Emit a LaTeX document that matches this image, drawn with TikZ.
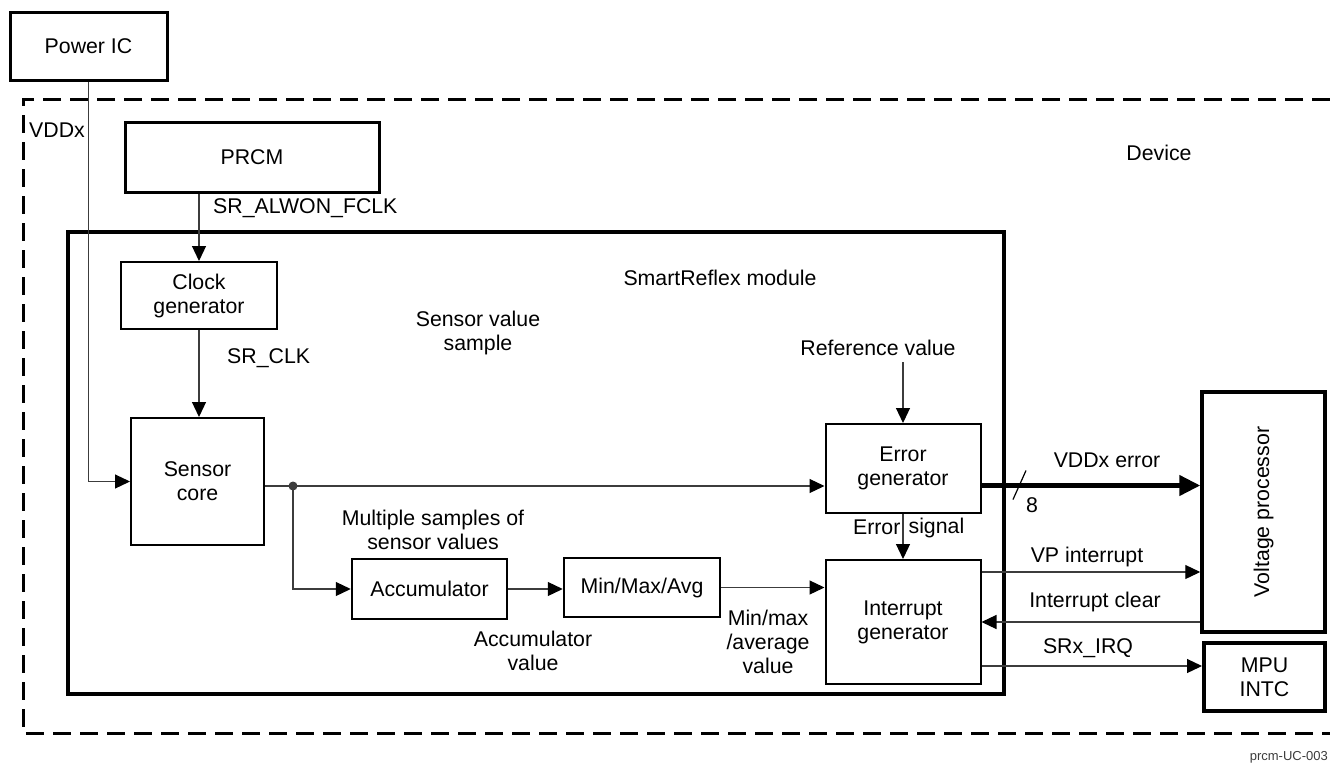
\documentclass[tikz,border=0pt]{standalone}
\usepackage{fontspec}
\setmainfont{Liberation Sans}
\usetikzlibrary{arrows.meta, positioning, calc}
\definecolor{wiregray}{HTML}{3C3C3C}

\begin{document}
\begin{tikzpicture}[
  x=1pt, y=-1pt,
  font=\fontsize{21.3}{24}\selectfont,
  block/.style={draw, line width=2pt, align=center, inner sep=0pt},
  heavy/.style={block, line width=3.5pt},
  wire/.style={draw=wiregray, line width=1.2pt, -{Triangle[length=15pt, width=14pt, color=black]}},
  bus/.style={draw, line width=4.5pt, -{Triangle[length=21pt, width=20pt]}},
  lbl/.style={align=center, inner sep=0pt}
]
\useasboundingbox (0,0) rectangle (1330,763);

% device frame
\draw[line width=3pt, dash pattern=on 18pt off 9pt] (1330,99) -- (23,99) -- (23,733) -- (1330,733);
\node[lbl] (device) at (1159,153) {Device};

% outside blocks
\node[block, line width=3pt, minimum width=157pt, minimum height=68pt] (power) at (88.5,46) {Power IC};
\node[block, line width=3pt, minimum width=254pt, minimum height=70pt] (prcm) at (252,157) {PRCM};
\node[heavy, minimum width=123pt, minimum height=240pt] (vp) at (1263.5,512) {};
\node[rotate=90, lbl] (vptext) at (vp.center) {Voltage processor};
\node[heavy, line width=4pt, minimum width=121pt, minimum height=68pt] (mpu) at (1264.5,677) {MPU\\INTC};

% SmartReflex module
\node[heavy, minimum width=936pt, minimum height=462pt] (sr) at (536,463) {};
\node[lbl] (srtitle) at (720,278) {SmartReflex module};
\node[block, minimum width=156pt, minimum height=67pt] (clk) at (199,295.5) {Clock\\generator};
\node[block, minimum width=133pt, minimum height=127pt] (core) at (197.5,481.5) {Sensor\\core};
\node[block, line width=2.5pt, minimum width=155pt, minimum height=60pt] (acc) at (429.5,589) {Accumulator};
\node[block, line width=2.5pt, minimum width=156pt, minimum height=59pt] (mma) at (642,587.5) {Min/Max/Avg};
\node[block, minimum width=155pt, minimum height=89pt] (errgen) at (903,468.5) {Error\\generator};
\node[block, minimum width=155pt, minimum height=124pt] (intgen) at (903,622) {Interrupt\\generator};
\coordinate (tap) at (293,486);
\coordinate (bus8) at (1019.5,485.5);

% labels
\node[lbl] (vddx) at (57,130) {VDDx};
\node[lbl, anchor=west] (fclk) at (213,208) {SR\_ALWON\_FCLK};
\node[lbl, anchor=west] (srclk) at (227,358) {SR\_CLK};
\node[lbl] (sample) at (478,333) {Sensor value\\sample};
\node[lbl] (ref) at (878,348) {Reference value};
\node[lbl] (multi) at (433,530) {Multiple samples of\\sensor values};
\node[lbl] (accval) at (533,651) {Accumulator\\value};
\node[lbl] (mmaval) at (768,642) {Min/max\\/average\\value};
\node[lbl] (vddxerr) at (1107,460) {VDDx error};
\node[lbl] (eight) at (1032,505) {8};
\node[lbl] (vpint) at (1087,557) {VP interrupt};
\node[lbl] (intclr) at (1095,602) {Interrupt clear};
\node[lbl] (irq) at (1088,648) {SRx\_IRQ};
\node[lbl, anchor=east, font=\fontsize{13}{15}\selectfont, text=wiregray] (figid) at (1328,757) {prcm-UC-003};

% supply and clocks
\draw[wire] (power.south) |- (core.west);
\draw[wire] (prcm.south -| clk.north) -- (clk.north);
\draw[wire] (clk.south) -- (clk.south |- core.north);

% sensor path
\draw[wire] (core.east |- tap) -- (tap -| errgen.west);
\fill[wiregray] (tap) circle (4.5);
\draw[wire] (tap) |- (acc.west);
\draw[wire] (acc.east) -- (acc.east -| mma.west);
\draw[wire] (mma.east) -- (mma.east -| intgen.west);
\draw[wire, shorten <=6pt] (errgen.north |- ref.south) -- (errgen.north);
\draw[wire] (errgen.south) -- node[pos=0.3, left=2pt, lbl] {Error} node[pos=0.3, right=5pt, lbl] {signal} (intgen.north);

% outputs
\draw[bus] (errgen.east |- bus8) -- (vp.west |- bus8);
\draw[line width=1.2pt] ([shift={(-6.5,14)}]bus8) -- ([shift={(6.5,-15)}]bus8);
\draw[wire] ([yshift=-13pt]intgen.north east) -- ([yshift=-13pt]intgen.north east -| vp.west);
\draw[wire] (vp.west |- intgen.east) -- (intgen.east);
\draw[wire] ([yshift=-44pt]intgen.east) -- ([yshift=-44pt]intgen.east -| mpu.west);
\end{tikzpicture}
\end{document}
